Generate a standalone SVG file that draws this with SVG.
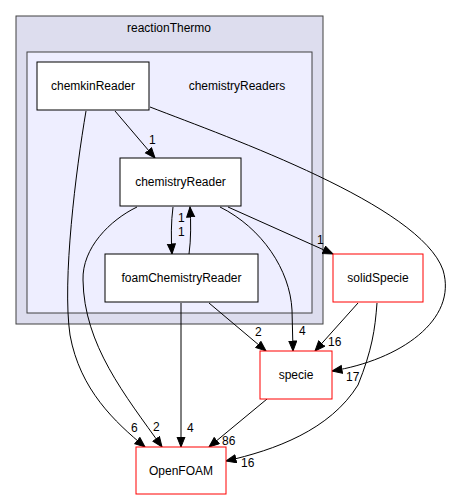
<svg xmlns="http://www.w3.org/2000/svg" width="454" height="500" viewBox="0 0 454 500">
<style>
text{font-family:"Liberation Sans",Arial,sans-serif;font-size:12px;fill:#000}
.n{text-anchor:middle}
.box{fill:#fff;stroke:#000;stroke-width:1}
.red{fill:#fff;stroke:#ff0000;stroke-width:1}
.e{fill:none;stroke:#000;stroke-width:1}
</style>
<defs>
<marker id="a" markerUnits="userSpaceOnUse" markerWidth="12" markerHeight="11" refX="10.5" refY="4.5" orient="auto">
<path d="M0.5,0.5 L10.5,4.5 L0.5,8.5 z" fill="#000" stroke="#000" stroke-width="1"/>
</marker>
</defs>
<rect width="454" height="500" fill="#fff"/>
<g id="cluster_reactionThermo">
<rect x="16" y="16" width="307" height="308" fill="#ddddee" stroke="#404040" stroke-width="1"/>
<text class="n" x="169" y="32">reactionThermo</text>
</g>
<g id="cluster_chemistryReaders">
<rect x="27" y="52" width="285" height="261" fill="#eeeeff" stroke="#404040" stroke-width="1"/>
<text class="n" x="237" y="90">chemistryReaders</text>
</g>
<g id="edges">
<path class="e" marker-end="url(#a)" d="M115,111 L155,158"/>
<text x="149" y="144">1</text>
<path class="e" marker-end="url(#a)" d="M150,107 C230,138 420,205 443,270 C458,320 400,360 332,371"/>
<text x="346" y="381">17</text>
<path class="e" marker-end="url(#a)" d="M86,111 C76,170 62,280 70,335 C80,390 115,422 145,447"/>
<text x="131" y="432">6</text>
<path class="e" marker-end="url(#a)" d="M173,207 C171,222 171,238 172,254"/>
<text x="178" y="222">1</text>
<text x="178" y="236">1</text>
<path class="e" marker-end="url(#a)" d="M189,254 C191,240 191,222 190,207"/>
<path class="e" marker-end="url(#a)" d="M228,207 L333,254"/>
<text x="317" y="244">1</text>
<path class="e" marker-end="url(#a)" d="M220,207 C262,228 290,270 292,310 L293,351"/>
<text x="299" y="335">4</text>
<path class="e" marker-end="url(#a)" d="M137,207 C110,220 82,248 83,280 C84,345 125,395 162,447"/>
<text x="153" y="431">2</text>
<path class="e" marker-end="url(#a)" d="M181,303 L181,447"/>
<text x="187" y="432">4</text>
<path class="e" marker-end="url(#a)" d="M209,303 L266,351"/>
<text x="255" y="336">2</text>
<path class="e" marker-end="url(#a)" d="M358,303 L315,351"/>
<text x="328" y="346">16</text>
<path class="e" marker-end="url(#a)" d="M377,303 C375,330 372,350 358,385 C330,430 275,450 226,461"/>
<text x="241" y="467">16</text>
<path class="e" marker-end="url(#a)" d="M267,399 L209,447"/>
<text x="222" y="445">86</text>
</g>
<g id="chemkinReader">
<rect class="box" x="37" y="62" width="112" height="48"/>
<text class="n" x="93" y="90">chemkinReader</text>
</g>
<g id="chemistryReader">
<rect class="box" x="120" y="158" width="121" height="48"/>
<text class="n" x="180.5" y="186">chemistryReader</text>
</g>
<g id="foamChemistryReader">
<rect class="box" x="105" y="254" width="153" height="48"/>
<text class="n" x="181.5" y="282">foamChemistryReader</text>
</g>
<g id="solidSpecie">
<rect class="red" x="333" y="254" width="90" height="48"/>
<text class="n" x="378" y="282">solidSpecie</text>
</g>
<g id="specie">
<rect class="red" x="260" y="351" width="72" height="48"/>
<text class="n" x="296" y="379">specie</text>
</g>
<g id="OpenFOAM">
<rect class="red" x="136" y="447" width="90" height="47"/>
<text class="n" x="181" y="475">OpenFOAM</text>
</g>
</svg>
